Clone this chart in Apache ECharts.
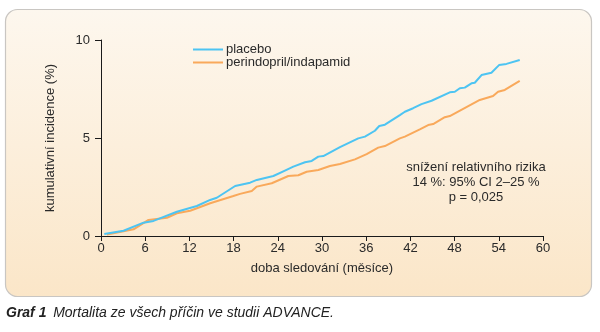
<!DOCTYPE html>
<html>
<head>
<meta charset="utf-8">
<script src="https://cdn.jsdelivr.net/npm/echarts@6/dist/echarts.min.js"></script>
<style>
  html, body { margin: 0; padding: 0; background: #ffffff; }
  #chart { width: 600px; height: 332px; }
</style>
</head>
<body>
<div id="chart"></div>
<script>
// Cumulative all-cause mortality, ADVANCE study
const placeboMonths = [0.45, 3.06, 5.77, 7.13, 10.30, 13.01, 14.82, 15.72, 18.21, 20.24, 21.15, 23.40, 24.75, 26.11, 27.69, 28.60, 29.50, 30.18, 32.44, 34.92, 35.83, 37.18, 37.77, 38.54, 40.57, 41.25, 42.37, 43.51, 44.87, 47.35, 48.03, 48.71, 49.38, 50.29, 50.74, 51.65, 53.00, 54.03, 55.04, 56.84];
const placeboRisk   = [0.10, 0.27, 0.68, 0.77, 1.24, 1.53, 1.84, 1.95, 2.55, 2.72, 2.86, 3.06, 3.30, 3.54, 3.76, 3.83, 4.05, 4.08, 4.53, 4.98, 5.07, 5.37, 5.61, 5.68, 6.17, 6.34, 6.52, 6.73, 6.90, 7.33, 7.36, 7.54, 7.57, 7.79, 7.82, 8.21, 8.33, 8.72, 8.78, 8.98];

const perindMonths = [0.81, 4.42, 6.45, 8.95, 10.30, 12.11, 14.82, 17.97, 18.88, 20.47, 21.15, 23.18, 25.43, 26.79, 27.92, 29.50, 31.08, 32.44, 34.47, 36.06, 37.63, 38.54, 40.57, 41.25, 43.28, 44.41, 45.09, 46.67, 47.35, 51.42, 53.22, 53.90, 54.81, 56.84];
const perindRisk   = [0.07, 0.34, 0.82, 0.93, 1.16, 1.29, 1.67, 2.04, 2.15, 2.30, 2.52, 2.69, 3.06, 3.10, 3.28, 3.37, 3.57, 3.67, 3.91, 4.18, 4.51, 4.59, 4.98, 5.07, 5.44, 5.66, 5.71, 6.06, 6.12, 6.94, 7.14, 7.36, 7.45, 7.91];

const seriesNames = ['placebo', 'perindopril/indapamid'];
const seriesColors = ['#4dc4f2', '#f9a95b'];
const xTitle = 'doba sledování (měsíce)';
const yTitle = 'kumulativní incidence (%)';
const noteLines = ['snížení relativního rizika', '14 %: 95% CI 2–25 %', 'p = 0,025'];
const captionLabel = 'Graf 1';
const captionText = 'Mortalita ze všech příčin ve studii ADVANCE.';

const pairs = (xs, ys) => xs.map((x, i) => [x, ys[i]]);
const FONT = '"Liberation Sans", Arial, sans-serif';

const chart = echarts.init(document.getElementById('chart'), null, { renderer: 'canvas' });

chart.setOption({
  animation: false,
  textStyle: { fontFamily: FONT },
  graphic: [
    {
      type: 'rect', z: -10, silent: true,
      shape: { x: 5.5, y: 9.5, width: 586, height: 287, r: 12 },
      style: {
        fill: new echarts.graphic.LinearGradient(0, 0, 0, 1, [
          { offset: 0, color: '#fdf7ee' },
          { offset: 1, color: '#fbe6c8' }
        ]),
        stroke: '#c9c6c2', lineWidth: 1.2
      }
    },
    {
      type: 'text', x: 476, y: 160,
      style: {
        text: noteLines.join('\n'), align: 'center', verticalAlign: 'top',
        font: '13px ' + FONT, fill: '#2a2a2a', lineHeight: 15
      }
    },
    {
      type: 'text', left: 6, top: 306,
      style: {
        text: '{b|' + captionLabel + '}  {i|' + captionText + '}',
        rich: {
          b: { font: 'italic bold 14px ' + FONT, fill: '#222' },
          i: { font: 'italic 14px ' + FONT, fill: '#222' }
        }
      }
    }
  ],
  legend: {
    left: 188, top: 38, orient: 'vertical', itemGap: 0,
    itemWidth: 30, itemHeight: 10, icon: 'path://M0,4 L30,4 L30,6 L0,6 Z',
    textStyle: { fontSize: 13, color: '#2a2a2a', fontFamily: FONT, padding: [0, 0, 0, -2] },
    data: seriesNames
  },
  grid: { left: 101, top: 40, right: 57, bottom: 96 },
  xAxis: {
    type: 'value', min: 0, max: 60, interval: 6,
    name: xTitle, nameLocation: 'middle', nameGap: 26,
    nameTextStyle: { fontSize: 13, color: '#2a2a2a' },
    axisLine: { onZero: false, lineStyle: { color: '#1a1a1a', width: 1 } },
    axisTick: { show: true, length: 5, lineStyle: { color: '#1a1a1a' } },
    axisLabel: { fontSize: 13, color: '#2a2a2a', margin: 6 },
    splitLine: { show: false }
  },
  yAxis: {
    type: 'value', min: 0, max: 10, interval: 5,
    name: yTitle, nameLocation: 'middle', nameGap: 44, nameRotate: 90,
    nameTextStyle: { fontSize: 13, color: '#2a2a2a' },
    axisLine: { show: true, onZero: false, lineStyle: { color: '#1a1a1a', width: 1 } },
    axisTick: { show: true, length: 6, lineStyle: { color: '#1a1a1a' } },
    axisLabel: { fontSize: 13, color: '#2a2a2a', margin: 11 },
    splitLine: { show: false }
  },
  series: [
    {
      name: seriesNames[0], type: 'line', data: pairs(placeboMonths, placeboRisk),
      symbol: 'none', color: seriesColors[0], lineStyle: { width: 2 }, z: 3
    },
    {
      name: seriesNames[1], type: 'line', data: pairs(perindMonths, perindRisk),
      symbol: 'none', color: seriesColors[1], lineStyle: { width: 2 }, z: 2
    }
  ]
});
</script>
</body>
</html>
